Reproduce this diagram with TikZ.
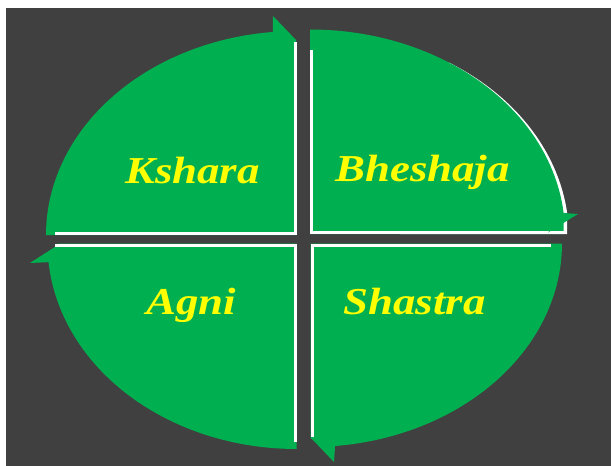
\documentclass[tikz,border=0pt]{standalone}
\usepackage{fontspec}
\setmainfont{Liberation Serif}
\definecolor{bg}{HTML}{404040}
\definecolor{grn}{HTML}{00B050}
\definecolor{ylw}{HTML}{FFFF00}
\begin{document}
\begin{tikzpicture}[x=1pt,y=-1pt,
  quad/.style={fill=grn},
  edgeline/.style={draw=white,line width=3pt},
  lbl/.style={text=ylw,font=\fontsize{38}{40}\selectfont\bfseries\itshape,xscale=1.18,anchor=base,inner sep=0pt}]
\useasboundingbox (0,0) rectangle (611,466);
\fill[white] (0,0) rectangle (611,466);
\fill[bg] (6,8) rectangle (611,466);
% white rim of Bheshaja
\fill[white] plot[domain=303:354.1,samples=40] ({310+(255+3.5*(\x-303)/51)*cos(\x)},{234+(204.5+3.5*(\x-303)/51)*sin(\x)}) -- (567,234) -- (400,234) -- cycle;
% Kshara
\fill[quad] (297,235) -- (46,235) -- plot[domain=180:264.5,samples=50] ({297+251*cos(\x)},{235+204*sin(\x)}) -- (273,16) -- (296,40) -- cycle;
% Bheshaja
\fill[quad] (310,234) -- plot[domain=270:354.1,samples=50] ({310+255*cos(\x)},{234+204.5*sin(\x)}) -- (563.7,234) -- cycle;
% Shastra
\fill[quad] (310.5,243.5) -- plot[domain=0:84.4,samples=50] ({310.5+251.5*cos(\x)},{243.5+203.5*sin(\x)}) -- (334,462) -- (313,440) -- (310.5,438) -- cycle;
% Agni
\fill[quad] (296.5,243.5) -- plot[domain=90:174.8,samples=50] ({296.5+249*cos(\x)},{243.5+205.5*sin(\x)}) -- (30,263) -- (58,245) -- (58,243.5) -- cycle;
% white edges
\draw[edgeline] (295.5,42) -- (295.5,233.5) -- (55,233.5);
\draw[edgeline] (311.5,50) -- (311.5,232.5) -- (565,232.5);
\draw[edgeline] (312,437) -- (312,245) -- (551,245);
\draw[edgeline] (295,442) -- (295,245) -- (55,245);
% Bheshaja arrowhead over rim
\fill[quad] (563.7,213) -- (578,214) -- (548,232.5) -- (555,225) -- cycle;
% labels
\node[lbl] (kshara) at (192.5,183) {Kshara};
\node[lbl] (bheshaja) at (422.5,181) {Bheshaja};
\node[lbl] (agni) at (191.5,314) {Agni};
\node[lbl] (shastra) at (414.5,314) {Shastra};
\end{tikzpicture}
\end{document}
